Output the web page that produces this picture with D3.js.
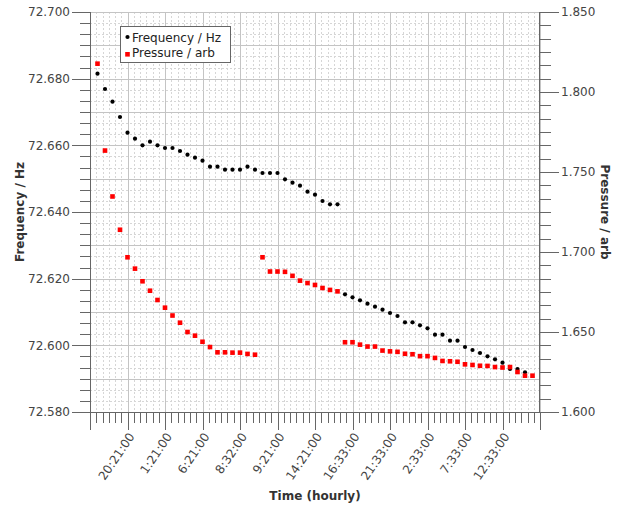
<html>
<head>
  <title>Frequency and pressure</title>
  <script src="https://d3js.org/d3.v7.min.js"></script>
  <style>
    body { margin: 0; background: #fff; }
    text { font-family: "DejaVu Sans", sans-serif; }
  </style>
</head>
<body>
<script>
var width = 627,
    height = 506;

// frequency in Hz, one reading per hourly slot (slot 58 has none)
var frequency = [
  72.6815, 72.6769, 72.6731, 72.6685, 72.6638, 72.6620, 72.6600, 72.6611, 72.6600, 72.6592,
  72.6592, 72.6583, 72.6572, 72.6563, 72.6554, 72.6536, 72.6536, 72.6527, 72.6527, 72.6527,
  72.6536, 72.6527, 72.6517, 72.6517, 72.6517, 72.6498, 72.6488, 72.6479, 72.6461, 72.6452,
  72.6433, 72.6423, 72.6423,
  72.6153, 72.6144, 72.6135, 72.6125, 72.6116, 72.6107, 72.6097, 72.6088, 72.6069, 72.6069,
  72.6060, 72.6051, 72.6032, 72.6032, 72.6014, 72.6014, 72.5995, 72.5986, 72.5977, 72.5967,
  72.5958, 72.5948, 72.5929, 72.5929, 72.5919
];

// pressure, arbitrary units
var pressure = [
  1.8177, 1.7634, 1.7347, 1.7139, 1.6967, 1.6896, 1.6817, 1.6758, 1.6700, 1.6652,
  1.6603, 1.6558, 1.6500, 1.6477, 1.6439, 1.6406, 1.6373, 1.6373, 1.6371, 1.6371,
  1.6363, 1.6358,
  1.6967, 1.6878, 1.6878, 1.6876, 1.6851, 1.6821, 1.6806, 1.6794, 1.6775, 1.6763,
  1.6754,
  1.6436, 1.6436, 1.6421, 1.6409, 1.6409, 1.6384, 1.6379, 1.6376, 1.6364, 1.6361,
  1.6349, 1.6349, 1.6338, 1.6319, 1.6317, 1.6314, 1.6298, 1.6294, 1.6289, 1.6288,
  1.6281, 1.6278, 1.6281, 1.6250, 1.6227, 1.6227
];

var tickSlots = [4, 9, 14, 19, 24, 29, 34, 39, 44, 49, 54];
var tickLabels = ["20:21:00", "1:21:00", "6:21:00", "8:32:00", "9:21:00", "14:21:00",
                  "16:33:00", "21:33:00", "2:33:00", "7:33:00", "12:33:00"];

var seriesNames = ["Frequency / Hz", "Pressure / arb"];

var pLeft = 90, pRight = 540, pTop = 12, pBottom = 412;

var svg = d3.select('body')
  .append('svg')
  .attr('width', width)
  .attr('height', height);

var x = d3.scaleLinear().domain([-1, 59]).range([pLeft, pRight]);
var yF = d3.scaleLinear().domain([72.58, 72.70]).range([pBottom, pTop]);
var yP = d3.scaleLinear().domain([1.60, 1.85]).range([pBottom, pTop]);

var xMinor = d3.range(0, 73).map(function(i) { return -1 + i * 5 / 6; });
var fTicks = d3.range(0, 37).map(function(i) { return 72.58 + i * 0.02 / 6; });
var pTicks = d3.range(0, 31).map(function(i) { return 1.60 + i * 0.05 / 6; });

// grid
var grid = svg.append('g');
grid.selectAll('.vx')
  .data(xMinor)
  .enter()
  .append('line')
  .attr('x1', d => Math.round(x(d)) + 0.5)
  .attr('x2', d => Math.round(x(d)) + 0.5)
  .attr('y1', pTop)
  .attr('y2', pBottom)
  .attr('stroke', (d, i) => i % 6 == 0 ? '#c4c4c4' : '#d6d6d6')
  .attr('stroke-dasharray', (d, i) => i % 6 == 0 ? null : '2,2');

grid.selectAll('.hy')
  .data(fTicks)
  .enter()
  .append('line')
  .attr('x1', pLeft)
  .attr('x2', pRight)
  .attr('y1', d => Math.round(yF(d)) + 0.5)
  .attr('y2', d => Math.round(yF(d)) + 0.5)
  .attr('stroke', (d, i) => i % 3 == 0 ? '#c4c4c4' : '#d6d6d6')
  .attr('stroke-dasharray', (d, i) => i % 3 == 0 ? null : '2,2');

// axes
var axisColor = '#666';
var labelColor = '#444';

var leftAxis = svg.append('g');
leftAxis.append('line')
  .attr('x1', pLeft + 0.5).attr('x2', pLeft + 0.5)
  .attr('y1', pTop).attr('y2', pBottom)
  .attr('stroke', axisColor);
leftAxis.selectAll('.t')
  .data(fTicks)
  .enter()
  .append('line')
  .attr('x1', (d, i) => i % 6 == 0 ? pLeft - 18 : pLeft - 10)
  .attr('x2', pLeft)
  .attr('y1', d => Math.round(yF(d)) + 0.5)
  .attr('y2', d => Math.round(yF(d)) + 0.5)
  .attr('stroke', axisColor);
leftAxis.selectAll('text')
  .data(fTicks.filter((d, i) => i % 6 == 0))
  .enter()
  .append('text')
  .attr('x', pLeft - 20)
  .attr('y', d => yF(d))
  .attr('dy', '0.36em')
  .attr('text-anchor', 'end')
  .attr('font-size', 12)
  .attr('fill', labelColor)
  .text(d => d3.format('.3f')(d));

var rightAxis = svg.append('g');
rightAxis.append('line')
  .attr('x1', pRight - 0.5).attr('x2', pRight - 0.5)
  .attr('y1', pTop).attr('y2', pBottom)
  .attr('stroke', axisColor);
rightAxis.selectAll('.t')
  .data(pTicks)
  .enter()
  .append('line')
  .attr('x1', pRight)
  .attr('x2', (d, i) => i % 6 == 0 ? pRight + 19 : pRight + 11)
  .attr('y1', d => Math.round(yP(d)) + 0.5)
  .attr('y2', d => Math.round(yP(d)) + 0.5)
  .attr('stroke', axisColor);
rightAxis.selectAll('text')
  .data(pTicks.filter((d, i) => i % 6 == 0))
  .enter()
  .append('text')
  .attr('x', pRight + 21)
  .attr('y', d => yP(d))
  .attr('dy', '0.36em')
  .attr('font-size', 12)
  .attr('fill', labelColor)
  .text(d => d3.format('.3f')(d));

var bottomAxis = svg.append('g');
bottomAxis.append('line')
  .attr('x1', pLeft).attr('x2', pRight)
  .attr('y1', pBottom + 0.5).attr('y2', pBottom + 0.5)
  .attr('stroke', axisColor);
bottomAxis.selectAll('.t')
  .data(xMinor)
  .enter()
  .append('line')
  .attr('x1', d => Math.round(x(d)) + 0.5)
  .attr('x2', d => Math.round(x(d)) + 0.5)
  .attr('y1', pBottom)
  .attr('y2', (d, i) => i % 6 == 0 ? pBottom + 18 : pBottom + 11)
  .attr('stroke', axisColor);
bottomAxis.selectAll('text')
  .data(tickSlots)
  .enter()
  .append('text')
  .attr('transform', d => 'translate(' + (x(d) + 4) + ',' + (pBottom + 22) + ') rotate(-56)')
  .attr('dy', '0.35em')
  .attr('text-anchor', 'end')
  .attr('font-size', 12)
  .attr('fill', labelColor)
  .text((d, i) => tickLabels[i]);

// axis titles
svg.append('text')
  .attr('transform', 'translate(24,' + (pTop + pBottom) / 2 + ') rotate(-90)')
  .attr('text-anchor', 'middle')
  .attr('font-size', 12)
  .attr('font-weight', 'bold')
  .attr('fill', '#333')
  .text(seriesNames[0]);

svg.append('text')
  .attr('transform', 'translate(601,' + (pTop + pBottom) / 2 + ') rotate(90)')
  .attr('text-anchor', 'middle')
  .attr('font-size', 12)
  .attr('font-weight', 'bold')
  .attr('fill', '#333')
  .text(seriesNames[1]);

svg.append('text')
  .attr('x', (pLeft + pRight) / 2)
  .attr('y', 500)
  .attr('text-anchor', 'middle')
  .attr('font-size', 12)
  .attr('font-weight', 'bold')
  .attr('fill', '#333')
  .text('Time (hourly)');

// series
svg.append('g')
  .selectAll('circle')
  .data(frequency)
  .enter()
  .append('circle')
  .attr('cx', (d, i) => x(i))
  .attr('cy', d => yF(d))
  .attr('r', 2.1)
  .attr('fill', 'black');

svg.append('g')
  .selectAll('rect')
  .data(pressure)
  .enter()
  .append('rect')
  .attr('x', (d, i) => x(i) - 2.3)
  .attr('y', d => yP(d) - 2.3)
  .attr('width', 4.6)
  .attr('height', 4.6)
  .attr('fill', 'red');

// legend
var legend = svg.append('g');
legend.append('rect')
  .attr('x', 120.5).attr('y', 26.5)
  .attr('width', 110).attr('height', 36)
  .attr('fill', 'white')
  .attr('stroke', '#666');
legend.append('circle')
  .attr('cx', 127.5).attr('cy', 37)
  .attr('r', 2.1)
  .attr('fill', 'black');
legend.append('rect')
  .attr('x', 125.2).attr('y', 52)
  .attr('width', 4.6).attr('height', 4.6)
  .attr('fill', 'red');
legend.selectAll('text')
  .data(seriesNames)
  .enter()
  .append('text')
  .attr('x', 132)
  .attr('y', (d, i) => 42 + i * 15)
  .attr('font-size', 12)
  .attr('fill', '#222')
  .text(d => d);
</script>
</body>
</html>
